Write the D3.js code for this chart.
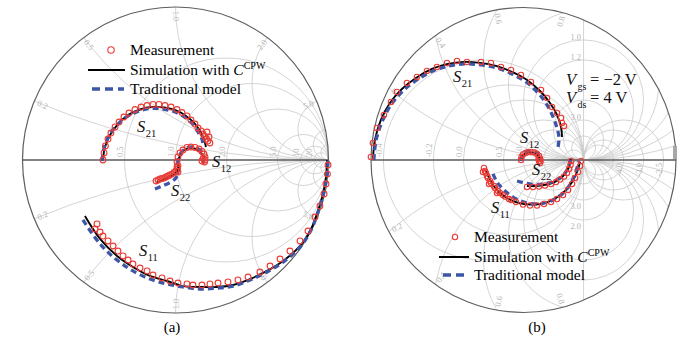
<!DOCTYPE html>
<html>
<head>
<meta charset="utf-8">
<script src="https://cdn.jsdelivr.net/npm/d3@7"></script>
<style>
  body { margin: 0; background: #fff; }
  svg { display: block; }
  text { font-family: "Liberation Serif", "Times New Roman", serif; }
</style>
</head>
<body>
<svg id="chart" width="688" height="348"></svg>
<script>
// ---------- (a) Smith chart grid values ----------
const aResistance = [0.5, 1, 2, 5, 10, 20];
const aResistanceLabels = ["0.5", "1.0", "2.0", "5.0", "10", "20"];
const aReactance = [0.2, 0.5, 1, 2, 5, 10, 20];
const aReactanceLabels = ["0.2", "0.5", "1.0", "2.0", "5.0", "", ""];
const aReactanceNegLabels = ["0.2", "0.5", "1.0", "2.0", "5.0", "", ""];

// ---------- (b) extended Smith chart grid values (|Γ| up to 2.54) ----------
const bResistance = [-0.4, -0.2, 0, 0.5, 1, 2, 5, -1, -5, -4, -3, -2.5];
const bResistanceLabels = ["-0.4", "-0.2", "0.0", "0.5", "1.0", "", "", "", "", "-4.0", "-3.0", "-2.5"];
const bReactance = [0.2, 0.4, 0.6, 0.8, 1, 1.2, 2, 3, 5];
const bReactanceLabels = ["0.2", "0.4", "0.6", "0.8", "1.0", "1.2", "", "3.0", ""];
const bReactanceNegLabels = ["0.2", "0.4", "0.6", "0.8", "", "", "2.0", "3.0", ""];

// ---------- (a) S-parameters, [Re, Im] ----------
const aS21Meas = [[-0.474,0],[-0.467,0.046],[-0.458,0.092],[-0.441,0.137],[-0.422,0.176],[-0.395,0.216],[-0.369,0.248],[-0.337,0.281],[-0.304,0.307],[-0.265,0.330],[-0.225,0.346],[-0.186,0.356],[-0.147,0.363],[-0.108,0.363],[-0.069,0.356],[-0.029,0.346],[0.010,0.330],[0.042,0.310],[0.075,0.288],[0.101,0.261],[0.127,0.235],[0.147,0.209],[0.167,0.190],[0.180,0.170],[0.193,0.154],[0.203,0.137],[0.212,0.124],[0.219,0.150],[0.206,0.183],[0.225,0.111]];
const aS21Sim = [[-0.474,0],[-0.461,0.085],[-0.428,0.163],[-0.376,0.235],[-0.310,0.294],[-0.232,0.330],[-0.154,0.346],[-0.075,0.343],[0.003,0.324],[0.069,0.288],[0.121,0.242],[0.160,0.190],[0.186,0.137],[0.199,0.085]];
const aS21Trad = [[-0.480,-0.007],[-0.467,0.078],[-0.435,0.157],[-0.382,0.229],[-0.317,0.284],[-0.239,0.320],[-0.160,0.337],[-0.082,0.333],[-0.003,0.314],[0.062,0.278],[0.114,0.232],[0.147,0.183],[0.173,0.137],[0.180,0.098]];

const aS12Meas = [[0.016,-0.078],[0.010,-0.046],[0.010,-0.013],[0.016,0.020],[0.029,0.046],[0.049,0.065],[0.075,0.082],[0.101,0.085],[0.127,0.082],[0.154,0.072],[0.173,0.056],[0.186,0.039],[0.193,0.020],[0.193,0.000],[0.190,-0.013],[0.180,0.010],[0.173,-0.007]];
const aS12Sim = [[0.023,-0.078],[0.016,-0.033],[0.023,0.013],[0.042,0.052],[0.075,0.075],[0.114,0.078],[0.147,0.065],[0.173,0.039],[0.183,0.007],[0.180,-0.020]];
const aS12Trad = [[0.016,-0.092],[0.013,-0.039],[0.020,0.013],[0.039,0.052],[0.072,0.078],[0.114,0.085],[0.150,0.072],[0.176,0.046],[0.186,0.013],[0.180,-0.026]];

const aS22Meas = [[-0.127,-0.137],[-0.114,-0.131],[-0.101,-0.124],[-0.088,-0.121],[-0.075,-0.118],[-0.062,-0.111],[-0.049,-0.105],[-0.036,-0.098],[-0.023,-0.092],[-0.010,-0.082],[0.003,-0.072],[0.013,-0.059],[0.016,-0.039]];
const aS22Sim = [[-0.127,-0.150],[-0.082,-0.131],[-0.036,-0.111],[0.003,-0.085],[0.023,-0.052]];
const aS22Trad = [[-0.134,-0.190],[-0.088,-0.170],[-0.042,-0.150],[-0.003,-0.124],[0.016,-0.098]];

const aS11Meas = [[-0.513,-0.418],[-0.526,-0.451],[-0.493,-0.471],[-0.474,-0.497],[-0.441,-0.529],[-0.408,-0.562],[-0.376,-0.595],[-0.343,-0.627],[-0.310,-0.654],[-0.278,-0.680],[-0.232,-0.706],[-0.186,-0.725],[-0.147,-0.752],[-0.088,-0.771],[-0.036,-0.791],[0.016,-0.804],[0.075,-0.810],[0.114,-0.817],[0.173,-0.817],[0.225,-0.810],[0.278,-0.804],[0.343,-0.797],[0.408,-0.784],[0.474,-0.765],[0.552,-0.732],[0.618,-0.693],[0.683,-0.647],[0.748,-0.595],[0.814,-0.529],[0.866,-0.464],[0.912,-0.373],[0.944,-0.301],[0.971,-0.222],[0.984,-0.157],[0.993,-0.092],[0.997,-0.033]];
const aS11Sim = [[-0.592,-0.366],[-0.493,-0.516],[-0.382,-0.627],[-0.278,-0.699],[-0.167,-0.758],[-0.056,-0.791],[0.049,-0.824],[0.160,-0.830],[0.271,-0.830],[0.376,-0.817],[0.487,-0.778],[0.598,-0.725],[0.703,-0.660],[0.814,-0.562],[0.886,-0.451],[0.931,-0.333],[0.964,-0.222],[0.984,-0.111],[0.990,0]];
const aS11Trad = [[-0.605,-0.392],[-0.493,-0.549],[-0.382,-0.654],[-0.278,-0.725],[-0.167,-0.778],[-0.056,-0.810],[0.049,-0.830],[0.160,-0.843],[0.271,-0.837],[0.376,-0.824],[0.487,-0.784],[0.598,-0.732],[0.703,-0.667],[0.814,-0.569],[0.886,-0.458],[0.931,-0.340],[0.964,-0.229],[0.990,-0.111],[0.997,0]];

// ---------- (b) S-parameters, [Re, Im] ----------
const bS21Meas = [[-2.542,0.050],[-2.508,0.283],[-2.442,0.533],[-2.325,0.750],[-2.208,0.967],[-2.108,1.133],[-1.942,1.283],[-1.775,1.383],[-1.608,1.483],[-1.442,1.550],[-1.275,1.617],[-1.108,1.650],[-0.942,1.633],[-0.708,1.633],[-0.542,1.617],[-0.375,1.550],[-0.208,1.500],[-0.042,1.417],[0.125,1.300],[0.292,1.167],[0.392,1.033],[0.475,0.883],[0.558,0.783],[0.625,0.700],[0.642,0.617],[0.675,0.567]];
const bS21Sim = [[-2.508,0],[-2.475,0.333],[-2.375,0.667],[-2.225,0.950],[-2.025,1.183],[-1.792,1.367],[-1.525,1.517],[-1.258,1.600],[-0.992,1.633],[-0.725,1.617],[-0.458,1.567],[-0.192,1.467],[0.058,1.333],[0.275,1.150],[0.442,0.950],[0.558,0.750],[0.625,0.550],[0.642,0.383]];
const bS21Trad = [[-2.492,0],[-2.458,0.317],[-2.358,0.633],[-2.208,0.917],[-2.008,1.150],[-1.775,1.333],[-1.508,1.483],[-1.242,1.567],[-0.975,1.600],[-0.708,1.583],[-0.442,1.533],[-0.192,1.433],[0.042,1.300],[0.242,1.117],[0.392,0.917],[0.492,0.717],[0.558,0.533],[0.592,0.367],[0.575,0.217]];

const bS12Meas = [[-0.042,0],[-0.033,0.050],[-0.008,0.092],[0.033,0.117],[0.083,0.133],[0.133,0.133],[0.183,0.125],[0.225,0.100],[0.258,0.067],[0.275,0.025],[0.283,-0.017],[0.275,-0.050],[0.258,-0.017],[0.250,0.017]];
const bS12Sim = [[-0.025,0],[-0.008,0.075],[0.058,0.117],[0.142,0.125],[0.217,0.100],[0.267,0.033],[0.275,-0.033]];
const bS12Trad = [[-0.042,-0.017],[-0.025,0.083],[0.050,0.142],[0.142,0.150],[0.225,0.125],[0.283,0.050],[0.292,-0.033]];

const bS22Meas = [[0.058,-0.450],[0.158,-0.450],[0.258,-0.442],[0.358,-0.425],[0.458,-0.400],[0.542,-0.367],[0.608,-0.325],[0.675,-0.275],[0.725,-0.217],[0.758,-0.150],[0.783,-0.083],[0.792,-0.017]];
const bS22Sim = [[0.058,-0.433],[0.275,-0.425],[0.475,-0.383],[0.625,-0.300],[0.725,-0.183],[0.775,-0.050],[0.783,0.017]];
const bS22Trad = [[-0.108,-0.350],[0.108,-0.400],[0.308,-0.400],[0.492,-0.358],[0.625,-0.283],[0.725,-0.167],[0.775,-0.033],[0.783,0.050]];

const bS11Meas = [[-0.642,-0.183],[-0.608,-0.267],[-0.558,-0.350],[-0.492,-0.433],[-0.425,-0.517],[-0.342,-0.583],[-0.242,-0.650],[-0.125,-0.700],[-0.008,-0.742],[0.108,-0.758],[0.225,-0.758],[0.342,-0.733],[0.458,-0.700],[0.558,-0.650],[0.658,-0.583],[0.742,-0.500],[0.808,-0.400],[0.858,-0.300],[0.908,-0.200],[0.942,-0.100],[0.958,-0.017],[-0.658,-0.133],[-0.625,-0.217],[-0.592,-0.300],[-0.542,-0.383],[-0.475,-0.467],[-0.392,-0.550],[-0.308,-0.608],[-0.208,-0.667],[-0.675,-0.200],[-0.575,-0.400],[-0.442,-0.550]];
const bS11Sim = [[-0.625,-0.167],[-0.558,-0.333],[-0.442,-0.500],[-0.275,-0.633],[-0.075,-0.717],[0.142,-0.742],[0.358,-0.717],[0.542,-0.633],[0.692,-0.517],[0.808,-0.367],[0.892,-0.200],[0.942,-0.033]];
const bS11Trad = [[-0.508,-0.233],[-0.442,-0.367],[-0.325,-0.500],[-0.175,-0.617],[0.008,-0.700],[0.208,-0.733],[0.408,-0.700],[0.575,-0.617],[0.708,-0.500],[0.808,-0.350],[0.875,-0.183],[0.925,-0.017]];

const legendLabels = ["Measurement", "Simulation with ", "Traditional model"];

// ---------- colours ----------
const RED = "#ea3b35", BLUE = "#3d55a5", GRID = "#c9c9c9", GRIDTXT = "#b4b4b4";

const svg = d3.select("#chart");
const defs = svg.append("defs");

function smithChart(opt) {
  const { id, cx, cy, R, gmax } = opt;
  const sx = d3.scaleLinear().domain([-gmax, gmax]).range([cx - R, cx + R]);
  const sy = d3.scaleLinear().domain([-gmax, gmax]).range([cy + R, cy - R]);
  const len = v => sx(v) - sx(0);
  const g = svg.append("g");

  defs.append("clipPath").attr("id", id)
    .append("circle").attr("cx", sx(0)).attr("cy", sy(0)).attr("r", len(gmax));

  // grid: constant resistance circles and constant reactance arcs
  const grid = g.append("g").attr("clip-path", `url(#${id})`)
    .attr("fill", "none").attr("stroke", GRID).attr("stroke-width", 0.8);
  opt.rVals.forEach(r => {
    if (r === -1) {
      grid.append("line").attr("x1", sx(1)).attr("x2", sx(1))
        .attr("y1", sy(gmax)).attr("y2", sy(-gmax));
    } else {
      grid.append("circle").attr("cx", sx(r / (r + 1))).attr("cy", sy(0))
        .attr("r", len(Math.abs(1 / (r + 1))));
    }
  });
  opt.xVals.forEach(x => [x, -x].forEach(v => {
    grid.append("circle").attr("cx", sx(1)).attr("cy", sy(1 / v))
      .attr("r", len(Math.abs(1 / v)));
  }));

  // grid labels
  const lab = g.append("g").attr("fill", GRIDTXT).attr("font-size", 8.5)
    .style("font-family", "Arial, 'Liberation Sans', sans-serif");
  opt.rVals.forEach((r, i) => {
    const t = opt.rLabels[i];
    if (!t || r === -1) return;
    const gx = (r - 1) / (r + 1);
    if (gx <= 1) {
      lab.append("text").attr("text-anchor", "start")
        .attr("transform", `translate(${sx(gx) - 1.5},${sy(0) - 3}) rotate(-90)`).text(t);
    } else {
      lab.append("text").attr("text-anchor", "end")
        .attr("transform", `translate(${sx(gx) - 1.5},${sy(0) + 3}) rotate(-90)`).text(t);
    }
  });
  opt.xVals.forEach((x, i) => {
    [[x, opt.xLabels[i]], [-x, opt.xNegLabels[i]]].forEach(([v, t]) => {
      if (!t) return;
      const G = gmax, c = [1, 1 / v], cn = Math.hypot(c[0], c[1]);
      const d = (G * G + 1) / 2 / cn;
      if (d < G) {
        // label where the arc meets the boundary
        const n = [c[0] / cn, c[1] / cn], p = [-n[1], n[0]], h = Math.sqrt(G * G - d * d);
        const P1 = [n[0] * d + p[0] * h, n[1] * d + p[1] * h];
        const P2 = [n[0] * d - p[0] * h, n[1] * d - p[1] * h];
        const P = P1[0] < P2[0] ? P1 : P2;
        const phi = Math.atan2(P[1], P[0]);
        const rr = len(G) - 9;
        const px = sx(0) + rr * Math.cos(phi), py = sy(0) - rr * Math.sin(phi);
        let rot = -phi * 180 / Math.PI;
        if (rot < -90) rot += 180;
        if (rot > 90) rot -= 180;
        lab.append("text").attr("text-anchor", "middle").attr("dominant-baseline", "central")
          .attr("transform", `translate(${px},${py}) rotate(${rot})`).text(t);
      } else {
        // arc lies inside the boundary: label beside its outermost point
        lab.append("text").attr("text-anchor", "end")
          .attr("x", sx(1) - 2.5).attr("y", sy(2 / v) + (v > 0 ? 0 : 9)).text(t);
      }
    });
  });

  // real axis and boundary
  g.append("line").attr("x1", sx(-gmax)).attr("x2", sx(gmax)).attr("y1", sy(0)).attr("y2", sy(0))
    .attr("stroke", "#5a5a5a").attr("stroke-width", 1.5);
  g.append("circle").attr("cx", sx(0)).attr("cy", sy(0)).attr("r", len(gmax))
    .attr("fill", "none").attr("stroke", "#5e5e5e").attr("stroke-width", 1.2);

  return { g, sx, sy };
}

function drawSeries(ch, meas, sim, trad, mr) {
  const line = d3.line().x(d => ch.sx(d[0])).y(d => ch.sy(d[1]))
    .curve(d3.curveCatmullRom.alpha(0.5));
  ch.g.append("path").datum(sim).attr("d", line)
    .attr("fill", "none").attr("stroke", "#000").attr("stroke-width", 1.9);
  ch.g.append("path").datum(trad).attr("d", line)
    .attr("fill", "none").attr("stroke", BLUE).attr("stroke-width", 3.3)
    .attr("stroke-dasharray", "6,4");
  ch.g.append("g").selectAll("circle").data(meas).join("circle")
    .attr("cx", d => ch.sx(d[0])).attr("cy", d => ch.sy(d[1])).attr("r", mr)
    .attr("fill", "none").attr("stroke", RED).attr("stroke-width", 1.1);
}

function sLabel(g, x, y, sub) {
  const t = g.append("text").attr("x", x).attr("y", y).attr("font-size", 16.5).attr("fill", "#111");
  t.append("tspan").attr("font-style", "italic").text("S");
  t.append("tspan").attr("font-size", 10.5).attr("dy", 5).attr("dx", 0.5).text(sub);
}

function legend(g, x0, yMark, yLine1, yLine2, lineX1, lineX2, blueX1, blueX2, mr) {
  g.append("circle").attr("cx", x0 - 19).attr("cy", yMark).attr("r", mr)
    .attr("fill", "none").attr("stroke", RED).attr("stroke-width", 1.1);
  g.append("line").attr("x1", lineX1).attr("x2", lineX2).attr("y1", yLine1).attr("y2", yLine1)
    .attr("stroke", "#000").attr("stroke-width", 2);
  g.append("line").attr("x1", blueX1).attr("x2", blueX2).attr("y1", yLine2).attr("y2", yLine2)
    .attr("stroke", BLUE).attr("stroke-width", 3.6).attr("stroke-dasharray", "8,5");
  const fs = 15.5;
  g.append("text").attr("x", x0).attr("y", yMark + 5).attr("font-size", fs).text(legendLabels[0]);
  const t = g.append("text").attr("x", x0).attr("y", yLine1 + 5).attr("font-size", fs);
  t.append("tspan").text(legendLabels[1]);
  t.append("tspan").attr("font-style", "italic").text("C");
  t.append("tspan").attr("font-size", 10).attr("dy", -6).text("CPW");
  g.append("text").attr("x", x0).attr("y", yLine2 + 5).attr("font-size", fs).text(legendLabels[2]);
}

// ---------- chart (a) ----------
const chA = smithChart({
  id: "clipA", cx: 175.5, cy: 160, R: 153, gmax: 1,
  rVals: aResistance, rLabels: aResistanceLabels,
  xVals: aReactance, xLabels: aReactanceLabels, xNegLabels: aReactanceNegLabels
});
drawSeries(chA, aS21Meas, aS21Sim, aS21Trad, 2.9);
drawSeries(chA, aS12Meas, aS12Sim, aS12Trad, 2.9);
drawSeries(chA, aS22Meas, aS22Sim, aS22Trad, 2.9);
drawSeries(chA, aS11Meas, aS11Sim, aS11Trad, 2.9);
sLabel(chA.g, 137, 132, "21");
sLabel(chA.g, 212, 167, "12");
sLabel(chA.g, 171, 196, "22");
sLabel(chA.g, 139, 256, "11");
legend(chA.g, 130, 50, 70, 89, 88, 125, 92, 124, 3.2);
svg.append("text").attr("x", 172).attr("y", 332).attr("text-anchor", "middle")
  .attr("font-size", 15).text("(a)");

// ---------- chart (b) ----------
const chB = smithChart({
  id: "clipB", cx: 523.5, cy: 160, R: 152.5, gmax: 2.54,
  rVals: bResistance, rLabels: bResistanceLabels,
  xVals: bReactance, xLabels: bReactanceLabels, xNegLabels: bReactanceNegLabels
});
chB.g.append("rect").attr("x", 673).attr("y", 146).attr("width", 4).attr("height", 13).attr("fill", "#a8a8a8");
drawSeries(chB, bS21Meas, bS21Sim, bS21Trad, 2.7);
drawSeries(chB, bS12Meas, bS12Sim, bS12Trad, 2.7);
drawSeries(chB, bS22Meas, bS22Sim, bS22Trad, 2.7);
drawSeries(chB, bS11Meas, bS11Sim, bS11Trad, 2.7);
sLabel(chB.g, 453, 82, "21");
sLabel(chB.g, 520, 143, "12");
sLabel(chB.g, 532, 175, "22");
sLabel(chB.g, 491, 213, "11");
legend(chB.g, 474, 237, 257, 275, 439, 469, 443, 469, 2.7);

// bias annotation
const vb = chB.g.append("g").attr("fill", "#111");
[["gs", "= \u22122 V", 85], ["ds", "= 4 V", 103]].forEach(([sub, rest, y]) => {
  vb.append("text").attr("x", 566).attr("y", y).attr("font-size", 16.5).attr("font-style", "italic").text("V");
  vb.append("text").attr("x", 577.5).attr("y", y + 5).attr("font-size", 10).text(sub);
  vb.append("text").attr("x", 590).attr("y", y).attr("font-size", 16.5).text(rest);
});
svg.append("text").attr("x", 537).attr("y", 332).attr("text-anchor", "middle")
  .attr("font-size", 15).text("(b)");
</script>
</body>
</html>
